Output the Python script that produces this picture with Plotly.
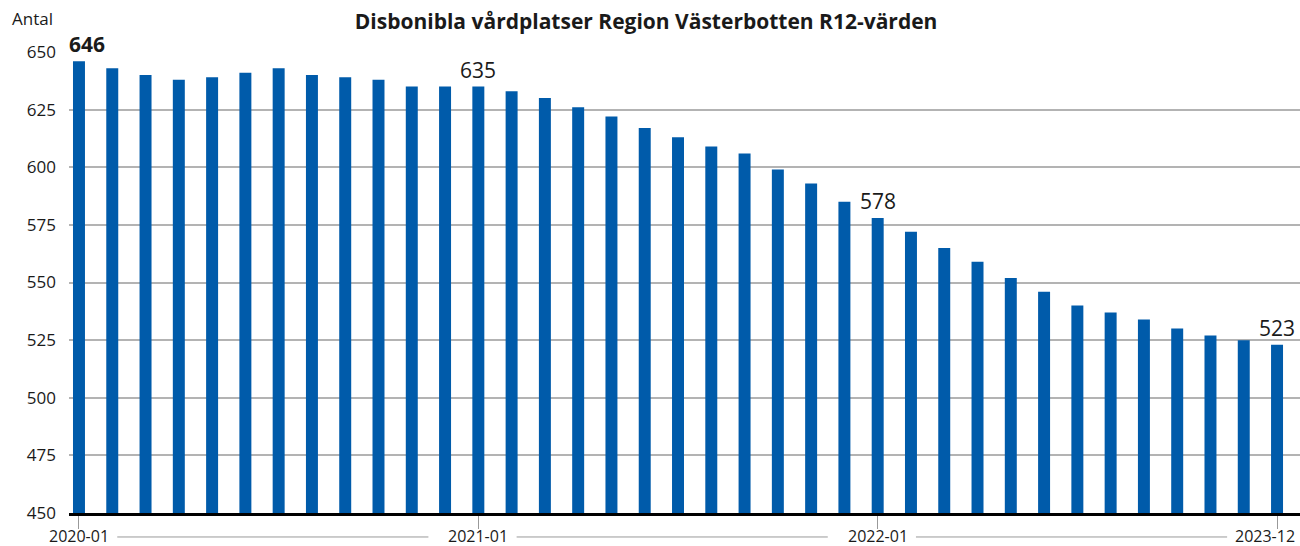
import plotly.graph_objects as go

# ---- data ----
categories = [f"{2020 + i // 12}-{i % 12 + 1:02d}" for i in range(37)]
values = [646, 643, 640, 638, 639, 641, 643, 640, 639, 638, 635, 635,
          635, 633, 630, 626, 622, 617, 613, 609, 606, 599, 593, 585,
          578, 572, 565, 559, 552, 546, 540, 537, 534, 530, 527, 525,
          523]
tick_index = [0, 12, 24, 36]
tick_labels = ["2020-01", "2021-01", "2022-01", "2023-12"]
label_index = [0, 12, 24, 36]
y_ticks = [450, 475, 500, 525, 550, 575, 600, 625, 650]

title = "Disbonibla vårdplatser Region Västerbotten R12-värden"
y_title = "Antal"

FONT = "Open Sans"
BAR = "#005BAA"
TXT = "#1a1a1a"

fig = go.Figure(go.Bar(x=list(range(len(values))), y=values,
                       marker=dict(color=BAR, line=dict(width=0)),
                       hovertext=categories))

annotations = []
for k, i in enumerate(label_index):
    bold = (k == 0)
    annotations.append(dict(
        x=i, y=values[i], xref="x", yref="y",
        text=f"<b>{values[i]}</b>" if bold else str(values[i]),
        showarrow=False, xanchor="center", yanchor="bottom",
        xshift=8 if k == 0 else 0, yshift=1,
        font=dict(family=FONT, size=21, color=TXT)))
annotations.append(dict(x=0, y=1, xref="paper", yref="paper", xanchor="right",
                        yanchor="bottom", xshift=-14, yshift=20, text=y_title,
                        showarrow=False,
                        font=dict(family=FONT, size=17, color=TXT)))
# x tick labels as annotations below the axis
for k, (i, lab) in enumerate(zip(tick_index, tick_labels)):
    last = (k == len(tick_index) - 1)
    annotations.append(dict(x=i, y=0, xref="x", yref="paper",
                            xanchor="right" if last else "center",
                            yanchor="middle", yshift=-23,
                            xshift=20 if last else 0,
                            text=lab, showarrow=False,
                            font=dict(family=FONT, size=16, color=TXT)))

shapes = []
for a, b in zip(tick_index[:-1], tick_index[1:]):
    shapes.append(dict(type="line", xref="x", yref="paper",
                       x0=a + 1.15, x1=b - 1.5, y0=-0.052, y1=-0.052,
                       line=dict(color="#999", width=1)))

fig.update_layout(
    width=1300, height=546,
    margin=dict(l=69, r=0, t=52, b=33),
    paper_bgcolor="white", plot_bgcolor="white",
    bargap=0.64, showlegend=False,
    title=dict(text=f"<b>{title}</b>", x=0.497, xanchor="center",
               y=0.96, yanchor="middle",
               font=dict(family=FONT, size=21, color=TXT)),
    annotations=annotations, shapes=shapes,
    xaxis=dict(range=[-0.3, 36.69], tickmode="array", tickvals=tick_index,
               showticklabels=False, automargin=False,
               showgrid=False, showline=True,
               linecolor="black", linewidth=3, ticks="outside", ticklen=13,
               tickcolor="#999", tickwidth=1),
    yaxis=dict(range=[450, 650], tickmode="array", tickvals=y_ticks,
               automargin=False, ticklabelstandoff=12,
               showgrid=True, gridcolor="#b3b3b3", gridwidth=1.5,
               zeroline=False, showline=False, ticks="",
               tickfont=dict(family=FONT, size=17, color=TXT)),
)

fig.write_html("out.html", config={"displayModeBar": False},
               post_script="document.body.style.margin='0';"
                           "document.body.style.overflow='hidden';")
